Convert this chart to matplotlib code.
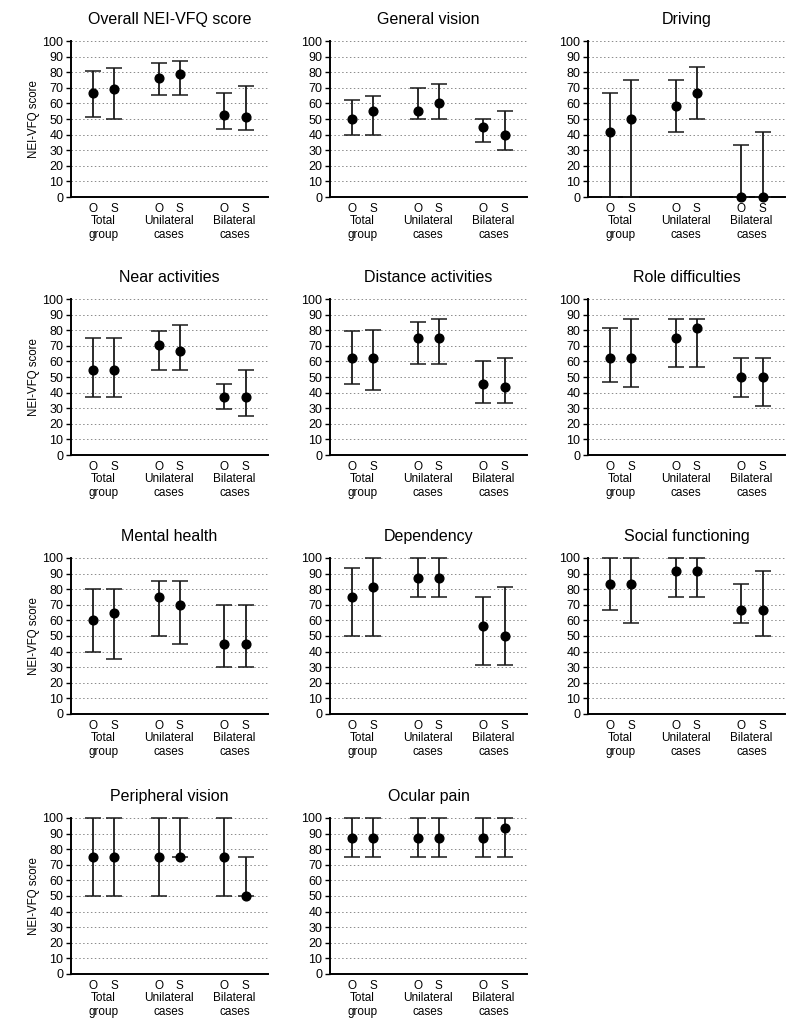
import matplotlib
matplotlib.use('Agg')
import matplotlib.pyplot as plt
from matplotlib.transforms import blended_transform_factory

plt.rcParams['font.family'] = ['Liberation Sans', 'DejaVu Sans']

# ---- data (order: Total O, Total S, Unilateral O, Unilateral S, Bilateral O, Bilateral S)
titles = ["Overall NEI-VFQ score", "General vision", "Driving",
          "Near activities", "Distance activities", "Role difficulties",
          "Mental health", "Dependency", "Social functioning",
          "Peripheral vision", "Ocular pain"]

point_labels = ["O", "S", "O", "S", "O", "S"]
group_labels = ["Total\ngroup", "Unilateral\ncases", "Bilateral\ncases"]

overall_med = [66.7, 69.2, 76.1, 78.7, 52.7, 51.4]
overall_lo = [51.2, 50.0, 65.2, 65.6, 43.7, 43.0]
overall_hi = [80.6, 82.8, 85.8, 86.9, 66.7, 71.2]

general_med = [50.0, 55.0, 55.0, 60.0, 45.0, 40.0]
general_lo = [40.0, 40.0, 50.0, 50.0, 35.0, 30.0]
general_hi = [62.5, 65.0, 70.0, 72.5, 50.0, 55.0]

driving_med = [41.7, 50.0, 58.3, 66.7, 0.0, 0.0]
driving_lo = [0.0, 0.0, 41.7, 50.0, 0.0, 0.0]
driving_hi = [66.7, 75.0, 75.0, 83.3, 33.3, 41.7]

near_med = [54.2, 54.2, 70.8, 66.7, 37.5, 37.5]
near_lo = [37.5, 37.5, 54.2, 54.2, 29.2, 25.0]
near_hi = [75.0, 75.0, 79.2, 83.3, 45.8, 54.2]

distance_med = [62.5, 62.5, 75.0, 75.0, 45.8, 43.3]
distance_lo = [45.8, 41.7, 58.3, 58.3, 33.3, 33.3]
distance_hi = [79.2, 80.0, 85.0, 87.5, 60.0, 62.5]

role_med = [62.5, 62.5, 75.0, 81.3, 50.0, 50.0]
role_lo = [46.9, 43.8, 56.3, 56.3, 37.5, 31.3]
role_hi = [81.3, 87.5, 87.5, 87.5, 62.5, 62.5]

mental_med = [60.0, 65.0, 75.0, 70.0, 45.0, 45.0]
mental_lo = [40.0, 35.0, 50.0, 45.0, 30.0, 30.0]
mental_hi = [80.0, 80.0, 85.0, 85.0, 70.0, 70.0]

dependency_med = [75.0, 81.3, 87.5, 87.5, 56.3, 50.0]
dependency_lo = [50.0, 50.0, 75.0, 75.0, 31.3, 31.3]
dependency_hi = [93.8, 100.0, 100.0, 100.0, 75.0, 81.3]

social_med = [83.3, 83.3, 91.7, 91.7, 66.7, 66.7]
social_lo = [66.7, 58.3, 75.0, 75.0, 58.3, 50.0]
social_hi = [100.0, 100.0, 100.0, 100.0, 83.3, 91.7]

peripheral_med = [75.0, 75.0, 75.0, 75.0, 75.0, 50.0]
peripheral_lo = [50.0, 50.0, 50.0, 75.0, 50.0, 50.0]
peripheral_hi = [100.0, 100.0, 100.0, 100.0, 100.0, 75.0]

pain_med = [87.5, 87.5, 87.5, 87.5, 87.5, 93.75]
pain_lo = [75.0, 75.0, 75.0, 75.0, 75.0, 75.0]
pain_hi = [100.0, 100.0, 100.0, 100.0, 100.0, 100.0]

medians = [overall_med, general_med, driving_med, near_med, distance_med, role_med,
           mental_med, dependency_med, social_med, peripheral_med, pain_med]
lows = [overall_lo, general_lo, driving_lo, near_lo, distance_lo, role_lo,
        mental_lo, dependency_lo, social_lo, peripheral_lo, pain_lo]
highs = [overall_hi, general_hi, driving_hi, near_hi, distance_hi, role_hi,
         mental_hi, dependency_hi, social_hi, peripheral_hi, pain_hi]

yticks = list(range(0, 101, 10))

# ---- layout
positions = [1.05, 2.05, 4.19, 5.19, 7.29, 8.33]
group_centers = [1.55, 4.69, 7.81]

fig = plt.figure(figsize=(8, 10.28), dpi=100)
W, H = 800, 1028
col_left = [71, 330, 588]
col_width = 197
row_top = [41, 299, 558, 818]
row_height = 156

for i, title in enumerate(titles):
    r, c = divmod(i, 3)
    ax = fig.add_axes([col_left[c] / W, 1 - (row_top[r] + row_height) / H,
                       col_width / W, row_height / H])
    med = medians[i]
    lo = lows[i]
    hi = highs[i]
    yerr = [[m - l for m, l in zip(med, lo)], [h - m for m, h in zip(med, hi)]]
    ax.errorbar(positions, med, yerr=yerr, fmt='o', color='black', ecolor='#1a1a1a',
                markersize=6.3, elinewidth=1.3, capsize=5.5, capthick=1.1, clip_on=False, zorder=3)
    ax.set_ylim(0, 100)
    ax.set_xlim(0, 9.4)
    ax.set_yticks(yticks)
    ax.tick_params(axis='y', labelsize=9, length=3.5, width=1, pad=2, direction='out')
    ax.set_xticks(positions)
    ax.set_xticklabels(point_labels, fontsize=8.5)
    ax.tick_params(axis='x', length=0, pad=4)
    for yv in yticks[1:]:
        ax.axhline(yv, color='#8a8a8a', lw=0.7, ls=(0, (1.5, 2.5)), zorder=1)
    for s in ['top', 'right']:
        ax.spines[s].set_visible(False)
    ax.spines['left'].set_linewidth(1.4)
    ax.spines['bottom'].set_linewidth(1.4)
    trans = blended_transform_factory(ax.transData, ax.transAxes)
    for gx, gl in zip(group_centers, group_labels):
        ax.text(gx, -0.115, gl, transform=trans, ha='center', va='top',
                fontsize=8.5, linespacing=1.2)
    ax.set_title(title, fontsize=11.5, pad=12)
    if c == 0:
        ax.set_ylabel("NEI-VFQ score", fontsize=8.3, labelpad=2)

fig.savefig("out.png", dpi=100)
